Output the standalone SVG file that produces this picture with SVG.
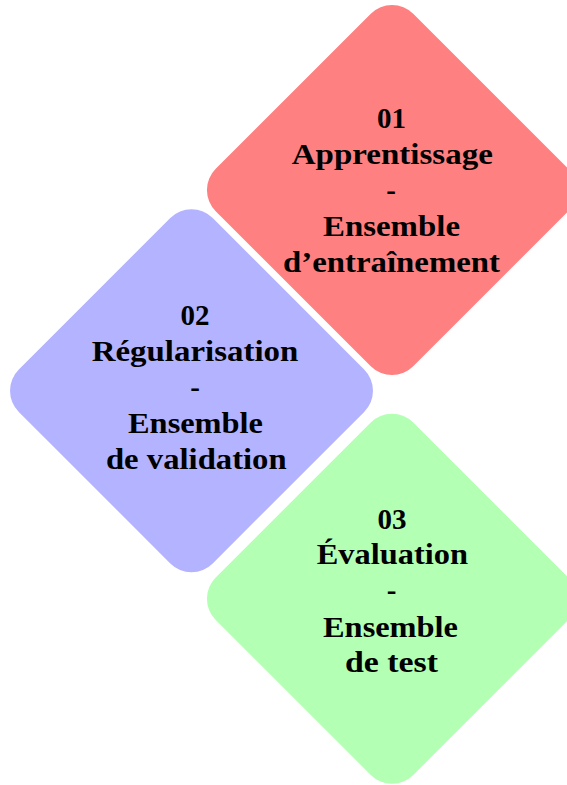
<svg xmlns="http://www.w3.org/2000/svg" width="567" height="785" viewBox="0 0 567 785">
<style>
.t{font-family:"Liberation Serif","Times New Roman",serif;font-weight:bold;font-size:29px;fill:#000;text-anchor:middle}
</style>
<defs>
<rect id="dia" x="-139.65" y="-139.65" width="279.3" height="279.3" rx="30" ry="30"/>
<rect id="dia2" x="-137.1" y="-137.1" width="274.2" height="274.2" rx="30" ry="30"/>
</defs>
<rect width="567" height="785" fill="#ffffff"/>
<g id="node1">
<use href="#dia" transform="translate(392,190) rotate(45)" fill="#FF8080"/>
<text class="t" x="391.5" y="128">01</text>
<text class="t" x="392.3" y="164" textLength="201" lengthAdjust="spacingAndGlyphs">Apprentissage</text>
<text class="t" x="391" y="200">-</text>
<text class="t" x="391.5" y="236" textLength="137" lengthAdjust="spacingAndGlyphs">Ensemble</text>
<text class="t" x="391.5" y="272" textLength="217" lengthAdjust="spacingAndGlyphs">d’entraînement</text>
</g>
<g id="node2">
<use href="#dia2" transform="translate(191.5,390.7) rotate(45)" fill="#B3B3FF"/>
<text class="t" x="195" y="324.5">02</text>
<text class="t" x="195" y="361" textLength="206.6" lengthAdjust="spacingAndGlyphs">Régularisation</text>
<text class="t" x="195" y="397">-</text>
<text class="t" x="195.5" y="433" textLength="135" lengthAdjust="spacingAndGlyphs">Ensemble</text>
<text class="t" x="196.3" y="469" textLength="180.7" lengthAdjust="spacingAndGlyphs">de validation</text>
</g>
<g id="node3">
<use href="#dia" transform="translate(392,598.7) rotate(45)" fill="#B3FFB3"/>
<text class="t" x="392" y="528.5">03</text>
<text class="t" x="392.3" y="564" textLength="151.3" lengthAdjust="spacingAndGlyphs">Évaluation</text>
<text class="t" x="391.5" y="600">-</text>
<text class="t" x="390.5" y="637" textLength="135" lengthAdjust="spacingAndGlyphs">Ensemble</text>
<text class="t" x="391.5" y="672" textLength="93" lengthAdjust="spacingAndGlyphs">de test</text>
</g>
<g id="connectors"></g>
</svg>
